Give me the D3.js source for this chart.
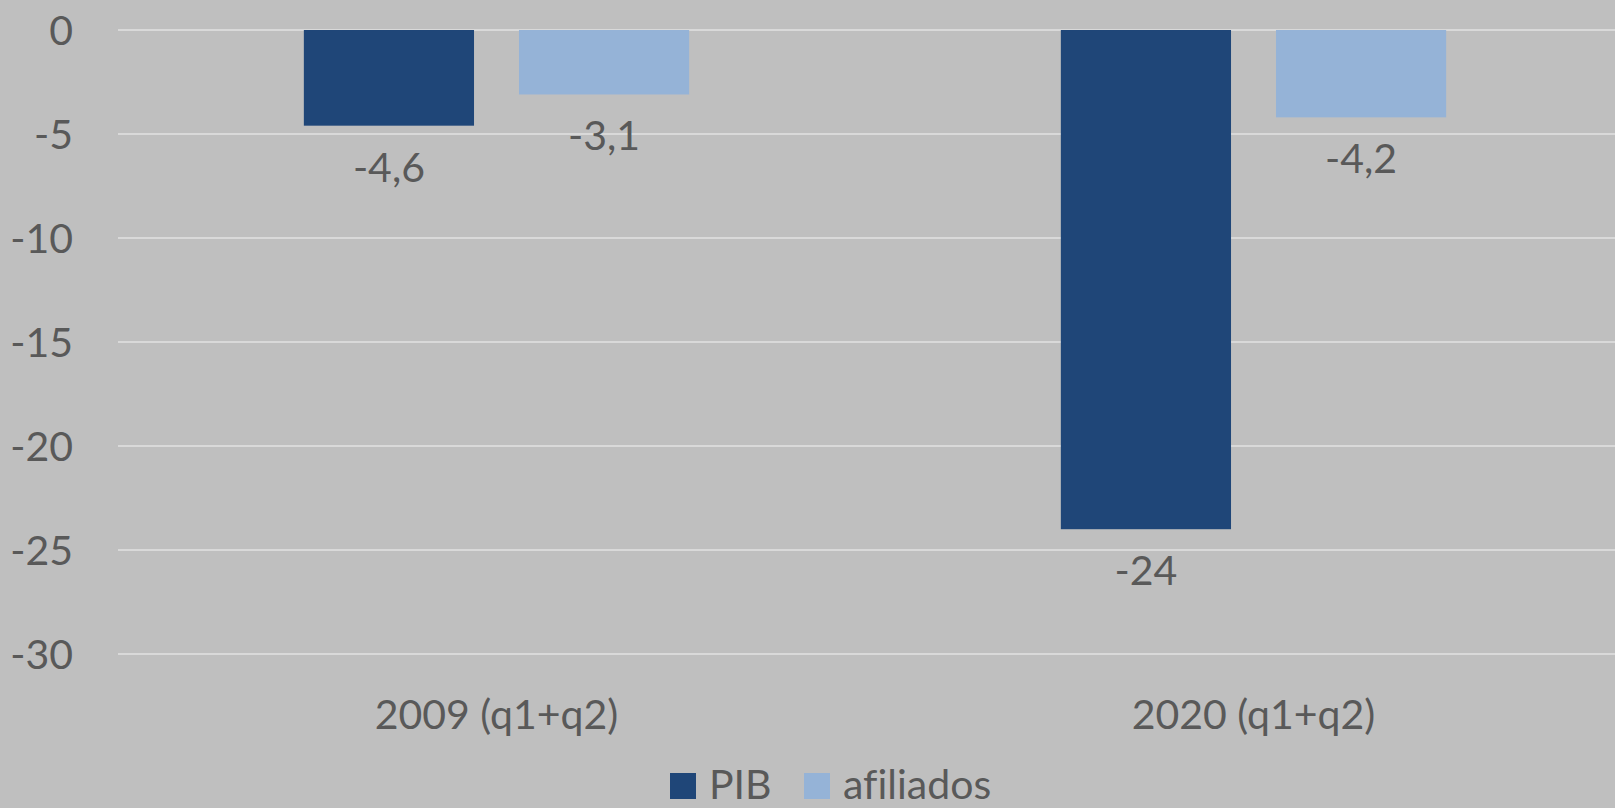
<!DOCTYPE html>
<html>
<head>
<meta charset="utf-8">
<script src="https://cdn.jsdelivr.net/npm/d3@7"></script>
<style>
  html, body { margin: 0; padding: 0; background: #bfbfbf; overflow: hidden; }
  text { font-family: Lato, "Open Sans", sans-serif; fill: #595959; font-variant-ligatures: none; }
</style>
</head>
<body>
<script>
var categories = ["2009 (q1+q2)", "2020 (q1+q2)"];
var seriesNames = ["PIB", "afiliados"];
var pibValues = [-4.6, -24];
var afiliadosValues = [-3.1, -4.2];
var yTicks = [0, -5, -10, -15, -20, -25, -30];
var colors = ["#1f4678", "#95b3d7"];

var width = 1615, height = 808;
var fontSize = 41;

var svg = d3.select("body").append("svg")
    .attr("width", width)
    .attr("height", height);

svg.append("rect")
    .attr("width", width)
    .attr("height", height)
    .style("fill", "#bfbfbf");

var y = d3.scaleLinear()
    .domain([0, -30])
    .range([30, 654]);

var x0 = d3.scaleBand()
    .domain(categories)
    .range([118, 1632])
    .paddingInner(0.491)
    .paddingOuter(0.2455);

var x1 = d3.scaleBand()
    .domain(seriesNames)
    .range([0, x0.bandwidth()])
    .paddingInner(0.209);

// gridlines
svg.append("g").selectAll("line")
    .data(yTicks)
    .enter().append("line")
    .attr("x1", 118)
    .attr("x2", width)
    .attr("y1", function (d) { return y(d); })
    .attr("y2", function (d) { return y(d); })
    .style("stroke", "#d9d9d9")
    .style("stroke-width", 2);

// y tick labels
svg.append("g").selectAll("text")
    .data(yTicks)
    .enter().append("text")
    .attr("x", 73)
    .attr("y", function (d) { return y(d) + 15; })
    .attr("text-anchor", "end")
    .style("font-size", fontSize + "px")
    .text(function (d) { return d; });

var rows = [];
categories.forEach(function (c, i) {
  rows.push({ cat: c, name: "PIB", v: pibValues[i], color: colors[0] });
  rows.push({ cat: c, name: "afiliados", v: afiliadosValues[i], color: colors[1] });
});

var fmt = function (v) { return String(v).replace(".", ","); };

svg.append("g").selectAll("rect")
    .data(rows)
    .enter().append("rect")
    .attr("x", function (d) { return x0(d.cat) + x1(d.name); })
    .attr("y", y(0))
    .attr("width", x1.bandwidth())
    .attr("height", function (d) { return y(d.v) - y(0); })
    .style("fill", function (d) { return d.color; });

// value labels
svg.append("g").selectAll("text")
    .data(rows)
    .enter().append("text")
    .attr("x", function (d) { return x0(d.cat) + x1(d.name) + x1.bandwidth() / 2; })
    .attr("y", function (d) { return y(d.v) + 56; })
    .attr("text-anchor", "middle")
    .style("font-size", fontSize + "px")
    .text(function (d) { return fmt(d.v); });

// category labels
svg.append("g").selectAll("text")
    .data(categories)
    .enter().append("text")
    .attr("x", function (d) { return x0(d) + x0.bandwidth() / 2; })
    .attr("y", 729)
    .attr("text-anchor", "middle")
    .style("font-size", fontSize + "px")
    .text(function (d) { return d; });

// legend
var legendX = [670, 804];
var legend = svg.append("g").selectAll("g")
    .data(seriesNames)
    .enter().append("g")
    .attr("transform", function (d, i) { return "translate(" + legendX[i] + ",0)"; });

legend.append("rect")
    .attr("x", 0)
    .attr("y", 773)
    .attr("width", 26)
    .attr("height", 26)
    .style("fill", function (d, i) { return colors[i]; });

legend.append("text")
    .attr("x", 39)
    .attr("y", 799)
    .style("font-size", fontSize + "px")
    .text(function (d) { return d; });
</script>
</body>
</html>
